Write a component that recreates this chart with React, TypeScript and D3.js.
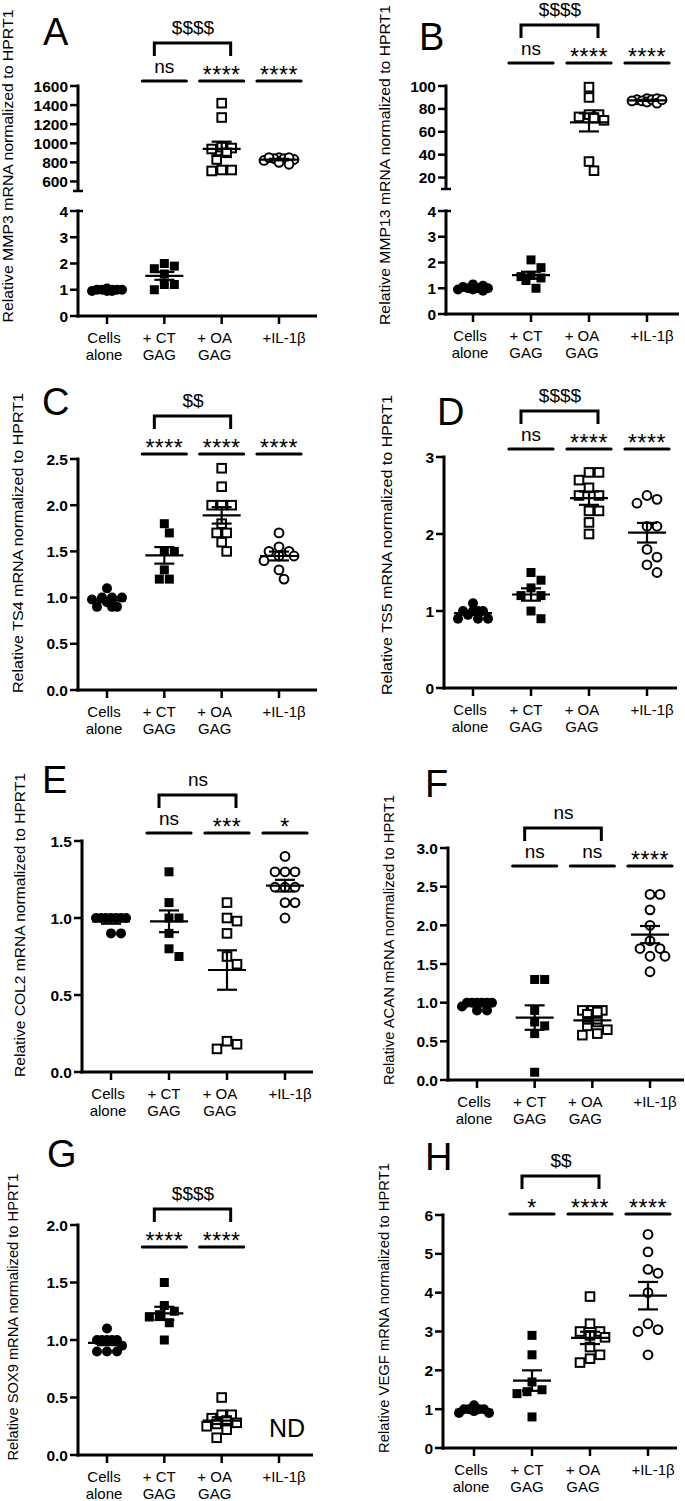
import * as d3 from 'd3';

// categories
const GROUP_LINES = [['Cells', 'alone'], ['+ CT', 'GAG'], ['+ OA', 'GAG'], ['+IL-1β']];
const LABEL_DX = [-3, -5, -7, 5];

// MMP3 (A)
const MMP3_CELLS = [1.05, 1.0, 1.0, 1.0, 0.95, 0.95, 0.95, 1.0, 1.0];
const MMP3_CT = [2.0, 1.8, 1.9, 1.6, 1.2, 1.2, 1.0];
const MMP3_OA = [1420, 1270, 950, 940, 960, 900, 830, 720, 710, 720];
const MMP3_IL = [850, 840, 830, 840, 850, 820, 780, 800, 850];
// MMP13 (B)
const MMP13_CELLS = [1.15, 1.05, 1.0, 0.95, 0.9, 0.95, 1.0, 1.1, 1.0];
const MMP13_CT = [2.1, 1.8, 1.5, 1.45, 1.4, 1.3, 1.0];
const MMP13_OA = [99, 90, 75, 75, 73, 72, 70, 34, 26];
const MMP13_IL = [88, 89, 87, 86, 88, 89, 87, 85, 88];
// TS4 (C)
const TS4_CELLS = [1.1, 1.0, 1.0, 1.0, 0.98, 0.95, 0.9, 0.9, 0.9];
const TS4_CT = [1.8, 1.7, 1.5, 1.5, 1.3, 1.2, 1.2];
const TS4_OA = [2.4, 2.2, 2.0, 2.0, 2.0, 1.8, 1.7, 1.7, 1.6, 1.5];
const TS4_IL = [1.7, 1.55, 1.5, 1.5, 1.45, 1.45, 1.4, 1.3, 1.2];
// TS5 (D)
const TS5_CELLS = [1.1, 1.0, 1.0, 1.0, 1.0, 0.95, 0.9, 0.9, 0.9];
const TS5_CT = [1.5, 1.4, 1.3, 1.2, 1.2, 1.0, 0.9];
const TS5_OA = [2.8, 2.8, 2.7, 2.6, 2.5, 2.5, 2.3, 2.3, 2.15, 2.0];
const TS5_IL = [2.5, 2.45, 2.4, 2.1, 2.1, 1.8, 1.7, 1.6, 1.5];
// COL2 (E)
const COL2_CELLS = [1.0, 1.0, 1.0, 1.0, 1.0, 1.0, 1.0, 0.9, 0.9];
const COL2_CT = [1.3, 1.1, 1.0, 1.0, 0.9, 0.8, 0.75];
const COL2_OA = [1.1, 1.0, 0.98, 0.9, 0.75, 0.7, 0.2, 0.15, 0.18];
const COL2_IL = [1.4, 1.3, 1.3, 1.3, 1.2, 1.2, 1.2, 1.1, 1.1, 1.0];
// ACAN (F)
const ACAN_CELLS = [1.0, 1.0, 1.0, 1.0, 1.0, 1.0, 0.95, 0.9, 0.9];
const ACAN_CT = [1.3, 1.3, 0.9, 0.75, 0.7, 0.6, 0.1];
const ACAN_OA = [0.9, 0.9, 0.9, 0.88, 0.85, 0.75, 0.7, 0.65, 0.6, 0.58];
const ACAN_IL = [2.4, 2.4, 2.2, 2.0, 1.8, 1.7, 1.7, 1.6, 1.6, 1.4];
// SOX9 (G)
const SOX9_CELLS = [1.1, 1.0, 1.0, 1.0, 1.0, 1.0, 0.95, 0.9, 0.9, 0.9];
const SOX9_CT = [1.5, 1.3, 1.25, 1.22, 1.2, 1.15, 1.0];
const SOX9_OA = [0.5, 0.35, 0.35, 0.32, 0.3, 0.28, 0.27, 0.25, 0.22, 0.15];
const SOX9_IL: number[] = [];
// VEGF (H)
const VEGF_CELLS = [1.1, 1.0, 1.0, 1.0, 1.0, 0.95, 0.9, 0.9];
const VEGF_CT = [2.9, 2.4, 1.7, 1.5, 1.45, 1.4, 0.8];
const VEGF_OA = [3.9, 3.2, 3.0, 3.0, 2.9, 2.85, 2.6, 2.4, 2.3, 2.2];
const VEGF_IL = [5.5, 5.05, 4.6, 4.5, 4.0, 3.2, 3.05, 3.0, 2.4];

const FONT = "'Liberation Sans', Arial, Helvetica, sans-serif";

type Seg = { domain: [number, number]; range: [number, number]; ticks: number[]; fmt: string };
type Cfg = {
  letter: string; letterX: number; letterY: number;
  title: string; titleX: number; titleY: number; titleLen: number;
  axisX: number; xEnd: number; y0: number; g0: number; g3: number;
  segs: Seg[]; data: number[][]; sig: (string | null)[]; bracket: string; sigY: number; nd?: boolean;
};

const PANELS: Cfg[] = [
  {
    letter: 'A', letterX: 43, letterY: 45, title: 'Relative MMP3 mRNA normalized to HPRT1', titleX: 8, titleY: 166, titleLen: 313,
    axisX: 78, xEnd: 317, y0: 316, g0: 107, g3: 279,
    segs: [
      { domain: [0, 4], range: [316, 211], ticks: [0, 1, 2, 3, 4], fmt: 'd' },
      { domain: [500, 1600], range: [191, 86], ticks: [600, 800, 1000, 1200, 1400, 1600], fmt: 'd' },
    ],
    data: [MMP3_CELLS, MMP3_CT, MMP3_OA, MMP3_IL], sig: [null, 'ns', '****', '****'], bracket: '$$$$', sigY: 81,
  },
  {
    letter: 'B', letterX: 419, letterY: 50, title: 'Relative MMP13 mRNA normalized to HPRT1', titleX: 385, titleY: 165, titleLen: 320,
    axisX: 446, xEnd: 679, y0: 314, g0: 473, g3: 647,
    segs: [
      { domain: [0, 4], range: [314, 211], ticks: [0, 1, 2, 3, 4], fmt: 'd' },
      { domain: [10, 100], range: [189, 86], ticks: [20, 40, 60, 80, 100], fmt: 'd' },
    ],
    data: [MMP13_CELLS, MMP13_CT, MMP13_OA, MMP13_IL], sig: [null, 'ns', '****', '****'], bracket: '$$$$', sigY: 63,
  },
  {
    letter: 'C', letterX: 42, letterY: 415, title: 'Relative TS4 mRNA normalized to HPRT1', titleX: 18, titleY: 543, titleLen: 300,
    axisX: 78, xEnd: 317, y0: 690, g0: 107, g3: 279,
    segs: [{ domain: [0, 2.5], range: [690, 459], ticks: [0, 0.5, 1, 1.5, 2, 2.5], fmt: '.1f' }],
    data: [TS4_CELLS, TS4_CT, TS4_OA, TS4_IL], sig: [null, '****', '****', '****'], bracket: '$$', sigY: 454,
  },
  {
    letter: 'D', letterX: 437, letterY: 425, title: 'Relative TS5 mRNA normalized to HPRT1', titleX: 387, titleY: 545, titleLen: 300,
    axisX: 444, xEnd: 677, y0: 688, g0: 473, g3: 647,
    segs: [{ domain: [0, 3], range: [688, 457], ticks: [0, 1, 2, 3], fmt: 'd' }],
    data: [TS5_CELLS, TS5_CT, TS5_OA, TS5_IL], sig: [null, 'ns', '****', '****'], bracket: '$$$$', sigY: 449,
  },
  {
    letter: 'E', letterX: 42, letterY: 793, title: 'Relative COL2 mRNA normalized to HPRT1', titleX: 20, titleY: 925, titleLen: 304,
    axisX: 82, xEnd: 313, y0: 1072, g0: 111, g3: 285,
    segs: [{ domain: [0, 1.5], range: [1072, 841], ticks: [0, 0.5, 1, 1.5], fmt: '.1f' }],
    data: [COL2_CELLS, COL2_CT, COL2_OA, COL2_IL], sig: [null, 'ns', '***', '*'], bracket: 'ns', sigY: 833,
  },
  {
    letter: 'F', letterX: 425, letterY: 797, title: 'Relative ACAN mRNA normalized to HPRT1', titleX: 389, titleY: 940, titleLen: 290,
    axisX: 448, xEnd: 684, y0: 1080, g0: 477, g3: 650,
    segs: [{ domain: [0, 3], range: [1080, 848], ticks: [0, 0.5, 1, 1.5, 2, 2.5, 3], fmt: '.1f' }],
    data: [ACAN_CELLS, ACAN_CT, ACAN_OA, ACAN_IL], sig: [null, 'ns', 'ns', '****'], bracket: 'ns', sigY: 866,
  },
  {
    letter: 'G', letterX: 47, letterY: 1167, title: 'Relative SOX9 mRNA normalized to HPRT1', titleX: 13, titleY: 1317, titleLen: 287,
    axisX: 78, xEnd: 313, y0: 1455, g0: 107, g3: 279,
    segs: [{ domain: [0, 2], range: [1455, 1225], ticks: [0, 0.5, 1, 1.5, 2], fmt: '.1f' }],
    data: [SOX9_CELLS, SOX9_CT, SOX9_OA, SOX9_IL], sig: [null, '****', '****', null], bracket: '$$$$', sigY: 1247, nd: true,
  },
  {
    letter: 'H', letterX: 425, letterY: 1170, title: 'Relative VEGF mRNA normalized to HPRT1', titleX: 384, titleY: 1308, titleLen: 290,
    axisX: 443, xEnd: 677, y0: 1448, g0: 474, g3: 648,
    segs: [{ domain: [0, 6], range: [1448, 1215], ticks: [0, 1, 2, 3, 4, 5, 6], fmt: 'd' }],
    data: [VEGF_CELLS, VEGF_CT, VEGF_OA, VEGF_IL], sig: [null, '*', '****', '****'], bracket: '$$', sigY: 1214,
  },
];

// simple beeswarm in pixel space, returns x offsets
function swarm(ys: number[], d = 10, s = 5, maxOff = 15): number[] {
  const order = d3.range(ys.length).sort((a, b) => ys[a] - ys[b]);
  const cands: number[] = [0];
  for (let k = s; k <= maxOff; k += s) cands.push(k, -k);
  const placed: { x: number; y: number }[] = [];
  const out = new Array(ys.length).fill(0);
  order.forEach(i => {
    let best = 0, bestD = -1;
    for (const c of cands) {
      const md = placed.length ? d3.min(placed, p => Math.hypot(p.x - c, p.y - ys[i]))! : Infinity;
      if (md >= d) { best = c; bestD = Infinity; break; }
      if (md > bestD) { bestD = md; best = c; }
    }
    out[i] = best;
    placed.push({ x: best, y: ys[i] });
  });
  return out;
}

function Marker({ kind, cx, cy }: { kind: number; cx: number; cy: number }) {
  if (kind === 0) return <circle cx={cx} cy={cy} r={5} fill="#000" />;
  if (kind === 1) return <rect x={cx - 4.5} y={cy - 4.5} width={9} height={9} fill="#000" />;
  if (kind === 2) return <rect x={cx - 4.3} y={cy - 4.3} width={8.6} height={8.6} fill="#fff" stroke="#000" strokeWidth={2} />;
  return <circle cx={cx} cy={cy} r={4.4} fill="#fff" stroke="#000" strokeWidth={2} />;
}

function Panel({ cfg }: { cfg: Cfg }) {
  const x = d3.scalePoint<number>().domain([0, 1, 2, 3]).range([cfg.g0, cfg.g3]);
  const scales = cfg.segs.map(s => d3.scaleLinear().domain(s.domain).range(s.range));
  const yOf = (v: number) => (scales.length > 1 && v > cfg.segs[0].domain[1] ? scales[1](v) : scales[0](v));
  const broken = cfg.segs.length > 1;
  const ax = cfg.axisX;

  return (
    <g fontFamily={FONT}>
      <text x={cfg.letterX} y={cfg.letterY} fontSize={38}>{cfg.letter}</text>
      <text
        transform={`translate(${cfg.titleX},${cfg.titleY}) rotate(-90)`}
        textAnchor="middle" dy="0.36em" fontSize={15}
        textLength={cfg.titleLen} lengthAdjust="spacingAndGlyphs"
      >{cfg.title}</text>

      {/* y axis segments */}
      {cfg.segs.map((s, si) => {
        const sc = scales[si];
        const f = d3.format(s.fmt);
        return (
          <g key={si}>
            <line x1={ax} x2={ax} y1={si === 0 ? cfg.y0 + 1.5 : s.range[0]} y2={s.range[1] - 1.5} stroke="#000" strokeWidth={3} />
            {s.ticks.map(t => (
              <g key={t}>
                <line x1={ax - 8} x2={broken && si === 0 && t === s.domain[1] ? ax + 5 : ax} y1={sc(t)} y2={sc(t)} stroke="#000" strokeWidth={2.5} />
                <text x={ax - 10} y={sc(t)} dy="0.36em" textAnchor="end" fontSize={15.5} fontWeight="bold">{f(t)}</text>
              </g>
            ))}
            {broken && si === 1 && (
              <line x1={ax - 5} x2={ax + 5} y1={s.range[0]} y2={s.range[0]} stroke="#000" strokeWidth={2.5} />
            )}
          </g>
        );
      })}

      {/* x axis */}
      <line x1={ax - 1.5} x2={cfg.xEnd} y1={cfg.y0} y2={cfg.y0} stroke="#000" strokeWidth={3} />
      {GROUP_LINES.map((lines, gi) => (
        <g key={gi}>
          <line x1={x(gi)} x2={x(gi)} y1={cfg.y0} y2={cfg.y0 + 8} stroke="#000" strokeWidth={2.5} />
          {lines.map((l, li) => (
            <text key={li} x={x(gi)! + LABEL_DX[gi]} y={cfg.y0 + 27 + li * 16.5} textAnchor="middle" fontSize={15}>{l}</text>
          ))}
        </g>
      ))}

      {/* points, mean, SEM */}
      {cfg.data.map((vals, gi) => {
        if (!vals.length) return null;
        const ys = vals.map(yOf);
        const offs = swarm(ys);
        const cx = x(gi)!;
        const m = d3.mean(vals)!;
        const sem = d3.deviation(vals)! / Math.sqrt(vals.length);
        const ym = yOf(m), yt = yOf(m + sem), yb = yOf(m - sem);
        return (
          <g key={gi}>
            {vals.map((v, i) => <Marker key={i} kind={gi} cx={cx + offs[i]} cy={ys[i]} />)}
            <g stroke="#000" strokeWidth={2.2}>
              <line x1={cx - 19} x2={cx + 19} y1={ym} y2={ym} />
              <line x1={cx} x2={cx} y1={yt} y2={yb} />
              <line x1={cx - 10} x2={cx + 10} y1={yt} y2={yt} />
              <line x1={cx - 10} x2={cx + 10} y1={yb} y2={yb} />
            </g>
          </g>
        );
      })}

      {cfg.nd && (
        <text x={x(3)! + 8} y={cfg.y0 - 18} textAnchor="middle" fontSize={25}>ND</text>
      )}

      {/* significance vs cells alone */}
      {cfg.sig.map((s, gi) => {
        if (!s) return null;
        const cx = x(gi)!;
        const star = s.startsWith('*');
        return (
          <g key={gi}>
            <line x1={cx - 22} x2={cx + 22} y1={cfg.sigY} y2={cfg.sigY} stroke="#000" strokeWidth={3.2} strokeLinecap="round" />
            <text x={cx} y={star ? cfg.sigY + 2 : cfg.sigY - 8.5} textAnchor="middle"
              fontSize={star ? 23 : 19} letterSpacing={star ? 0.5 : 0}>{s}</text>
          </g>
        );
      })}

      {/* bracket CT vs OA */}
      <path
        d={`M${x(1)! - 10},${cfg.sigY - 25} V${cfg.sigY - 38} H${x(2)! + 9} V${cfg.sigY - 25}`}
        fill="none" stroke="#000" strokeWidth={3}
      />
      <text x={(x(1)! + x(2)!) / 2} y={cfg.sigY - 47} textAnchor="middle" fontSize={19}>{cfg.bracket}</text>
    </g>
  );
}

export default function App() {
  return (
    <div style={{ position: 'absolute', left: 0, top: 0 }}>
      <svg width={685} height={1501} style={{ display: 'block', background: '#fff' }}>
        <rect width={685} height={1501} fill="#fff" />
        {PANELS.map(p => <Panel key={p.letter} cfg={p} />)}
      </svg>
    </div>
  );
}
